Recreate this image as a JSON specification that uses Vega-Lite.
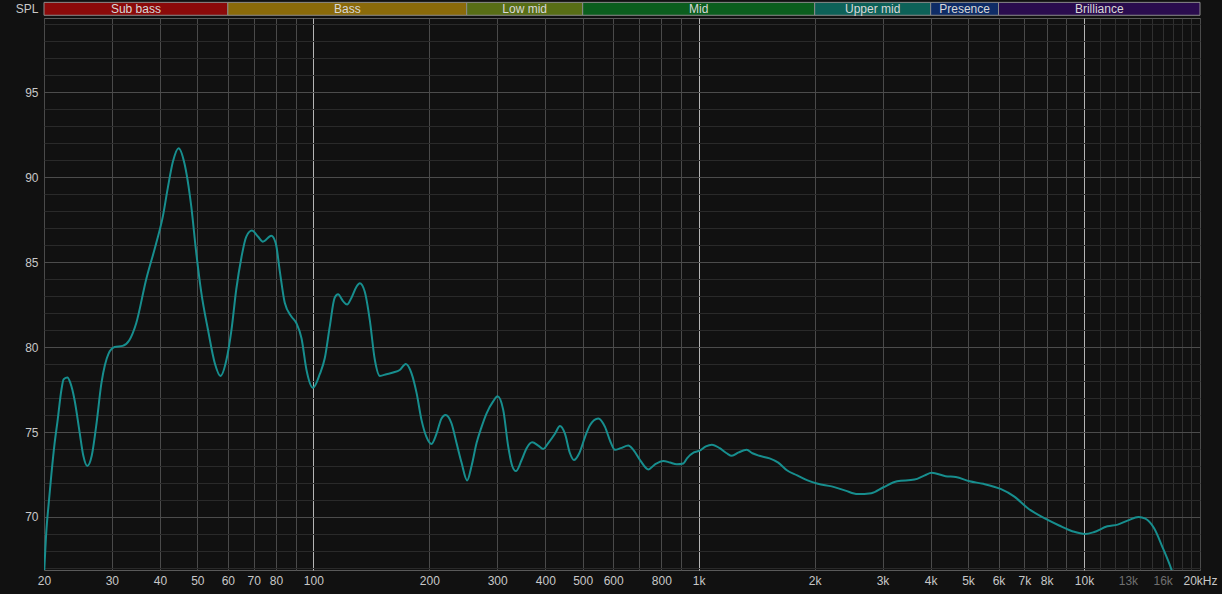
{
  "$schema": "https://vega.github.io/schema/vega-lite/v6.json",
  "width": 1156,
  "height": 552,
  "autosize": {"type": "none"},
  "padding": {"left": 44, "top": 18, "right": 22, "bottom": 24},
  "background": "#111111",
  "config": {
    "view": {"stroke": "#5a5a5a", "strokeWidth": 1, "fill": "#111111"},
    "axis": {"domain": false, "ticks": false, "labelFont": "Liberation Sans", "labelFontSize": 12, "titleFont": "Liberation Sans", "gridWidth": 1}
  },
  "datasets": {
    "response": [
      {"f": 20, "spl": 66.5}, {"f": 20.3, "spl": 69.3}, {"f": 20.55, "spl": 70.7}, {"f": 20.9, "spl": 72.5},
      {"f": 21.3, "spl": 74.3}, {"f": 21.7, "spl": 75.7}, {"f": 22.2, "spl": 77.5}, {"f": 22.5, "spl": 78.1},
      {"f": 23.0, "spl": 78.2}, {"f": 23.4, "spl": 77.9}, {"f": 24.0, "spl": 76.9}, {"f": 24.7, "spl": 75.1},
      {"f": 25.3, "spl": 73.6}, {"f": 25.9, "spl": 73.0}, {"f": 26.6, "spl": 73.6}, {"f": 27.3, "spl": 75.3},
      {"f": 28.2, "spl": 77.9}, {"f": 29.4, "spl": 79.6}, {"f": 30.5, "spl": 80.0}, {"f": 32.0, "spl": 80.07},
      {"f": 33.3, "spl": 80.4}, {"f": 34.7, "spl": 81.4}, {"f": 36.8, "spl": 83.95}, {"f": 39.1, "spl": 86.1},
      {"f": 40.7, "spl": 87.7}, {"f": 41.9, "spl": 89.35}, {"f": 43.2, "spl": 90.9}, {"f": 44.7, "spl": 91.7},
      {"f": 46.3, "spl": 90.8}, {"f": 48.2, "spl": 88.3}, {"f": 49.7, "spl": 85.5}, {"f": 51.2, "spl": 83.2},
      {"f": 53.3, "spl": 81.0}, {"f": 55.5, "spl": 79.05}, {"f": 57.4, "spl": 78.3}, {"f": 59.5, "spl": 79.25},
      {"f": 61.3, "spl": 81.0}, {"f": 63.1, "spl": 83.4}, {"f": 65.1, "spl": 85.3}, {"f": 67.0, "spl": 86.5},
      {"f": 69.3, "spl": 86.85}, {"f": 71.8, "spl": 86.5}, {"f": 74.0, "spl": 86.2}, {"f": 77.8, "spl": 86.55},
      {"f": 79.9, "spl": 86.1}, {"f": 81.8, "spl": 84.5}, {"f": 84.3, "spl": 82.6}, {"f": 87.7, "spl": 81.8},
      {"f": 90.4, "spl": 81.4}, {"f": 93.2, "spl": 80.5}, {"f": 96.0, "spl": 78.65}, {"f": 99.8, "spl": 77.6},
      {"f": 103.9, "spl": 78.4}, {"f": 107.1, "spl": 79.35}, {"f": 110.3, "spl": 81.2}, {"f": 113.6, "spl": 82.9},
      {"f": 115.9, "spl": 83.1}, {"f": 119.4, "spl": 82.7}, {"f": 122.3, "spl": 82.5}, {"f": 125.6, "spl": 82.9},
      {"f": 129.4, "spl": 83.55}, {"f": 132.0, "spl": 83.75}, {"f": 136.0, "spl": 83.25}, {"f": 140.1, "spl": 81.6},
      {"f": 144.4, "spl": 79.25}, {"f": 148.8, "spl": 78.3}, {"f": 154.8, "spl": 78.4}, {"f": 161.1, "spl": 78.5},
      {"f": 167.6, "spl": 78.65}, {"f": 173.8, "spl": 79.0}, {"f": 179.8, "spl": 78.45}, {"f": 185.3, "spl": 77.3},
      {"f": 190.9, "spl": 75.7}, {"f": 196.7, "spl": 74.7}, {"f": 202.6, "spl": 74.3}, {"f": 208.8, "spl": 74.9},
      {"f": 215.1, "spl": 75.8}, {"f": 220.3, "spl": 76.0}, {"f": 228.4, "spl": 75.5}, {"f": 235.3, "spl": 74.35},
      {"f": 242.4, "spl": 73.2}, {"f": 250.7, "spl": 72.15}, {"f": 257.4, "spl": 73.0}, {"f": 265.2, "spl": 74.35},
      {"f": 273.3, "spl": 75.3}, {"f": 281.6, "spl": 76.1}, {"f": 292.9, "spl": 76.8}, {"f": 300.7, "spl": 77.1},
      {"f": 311.0, "spl": 76.3}, {"f": 320.4, "spl": 74.15}, {"f": 328.2, "spl": 73.0}, {"f": 335.5, "spl": 72.7},
      {"f": 347.2, "spl": 73.35}, {"f": 357.7, "spl": 74.05}, {"f": 369.9, "spl": 74.4}, {"f": 383.4, "spl": 74.2},
      {"f": 395.0, "spl": 74.0}, {"f": 407.0, "spl": 74.35}, {"f": 423.7, "spl": 74.9}, {"f": 436.5, "spl": 75.35},
      {"f": 449.7, "spl": 74.9}, {"f": 463.4, "spl": 73.75}, {"f": 474.6, "spl": 73.35}, {"f": 489.9, "spl": 73.75},
      {"f": 506.9, "spl": 74.7}, {"f": 522.3, "spl": 75.4}, {"f": 548.9, "spl": 75.8}, {"f": 571.3, "spl": 75.3},
      {"f": 588.6, "spl": 74.5}, {"f": 606.5, "spl": 73.95}, {"f": 627.5, "spl": 74.05}, {"f": 656.8, "spl": 74.2},
      {"f": 676.8, "spl": 73.95}, {"f": 704.5, "spl": 73.35}, {"f": 740.3, "spl": 72.8}, {"f": 770.5, "spl": 73.1},
      {"f": 809.8, "spl": 73.3}, {"f": 842.9, "spl": 73.2}, {"f": 877.3, "spl": 73.1}, {"f": 912.6, "spl": 73.15},
      {"f": 932.6, "spl": 73.45}, {"f": 971.8, "spl": 73.8}, {"f": 1006, "spl": 73.9}, {"f": 1044, "spl": 74.15},
      {"f": 1082, "spl": 74.25}, {"f": 1134, "spl": 74.05}, {"f": 1182, "spl": 73.75}, {"f": 1219, "spl": 73.6},
      {"f": 1270, "spl": 73.8}, {"f": 1332, "spl": 73.95}, {"f": 1379, "spl": 73.75}, {"f": 1437, "spl": 73.6},
      {"f": 1528, "spl": 73.45}, {"f": 1609, "spl": 73.2}, {"f": 1694, "spl": 72.75}, {"f": 1802, "spl": 72.45},
      {"f": 1917, "spl": 72.15}, {"f": 2039, "spl": 71.95}, {"f": 2214, "spl": 71.8}, {"f": 2404, "spl": 71.55},
      {"f": 2584, "spl": 71.35}, {"f": 2806, "spl": 71.4}, {"f": 3016, "spl": 71.75}, {"f": 3274, "spl": 72.1},
      {"f": 3631, "spl": 72.2}, {"f": 3861, "spl": 72.45}, {"f": 4024, "spl": 72.6}, {"f": 4371, "spl": 72.4},
      {"f": 4648, "spl": 72.35}, {"f": 5050, "spl": 72.1}, {"f": 5480, "spl": 71.95}, {"f": 6073, "spl": 71.65},
      {"f": 6596, "spl": 71.2}, {"f": 7161, "spl": 70.5}, {"f": 7937, "spl": 69.9}, {"f": 8620, "spl": 69.5},
      {"f": 9363, "spl": 69.15}, {"f": 10060, "spl": 69.0}, {"f": 10590, "spl": 69.1}, {"f": 11500, "spl": 69.45},
      {"f": 12230, "spl": 69.55}, {"f": 13020, "spl": 69.8}, {"f": 13850, "spl": 70.0}, {"f": 14430, "spl": 69.9},
      {"f": 15190, "spl": 69.35}, {"f": 16000, "spl": 68.2}, {"f": 16840, "spl": 66.95}, {"f": 17100, "spl": 66.5}
    ],
    "bands": [
      {"band": "Sub bass", "lo": 20, "hi": 60, "center": 34.64},
      {"band": "Bass", "lo": 60, "hi": 250, "center": 122.5},
      {"band": "Low mid", "lo": 250, "hi": 500, "center": 353.6},
      {"band": "Mid", "lo": 500, "hi": 2000, "center": 1000},
      {"band": "Upper mid", "lo": 2000, "hi": 4000, "center": 2828},
      {"band": "Presence", "lo": 4000, "hi": 6000, "center": 4899},
      {"band": "Brilliance", "lo": 6000, "hi": 20000, "center": 10954}
    ]
  },
  "layer": [
    {
      "data": {"name": "response"},
      "mark": {"type": "line", "color": "#178e8e", "strokeWidth": 2, "clip": true, "interpolate": "monotone"},
      "encoding": {
        "x": {
          "field": "f", "type": "quantitative",
          "scale": {"type": "log", "domain": [20, 20000], "nice": false},
          "axis": {
            "title": null,
            "tickCount": 200,
            "values": [20,30,40,50,60,70,80,90,100,200,300,400,500,600,700,800,900,1000,2000,3000,4000,5000,6000,7000,8000,9000,10000,11000,12000,13000,14000,15000,16000,17000,18000,19000,20000],
            "labelExpr": "indexof([20,30,40,50,60,70,80,100,200,300,400,500,600,800], datum.value) >= 0 ? '' + datum.value : (indexof([1000,2000,3000,4000,5000,6000,7000,8000,10000,13000,16000], datum.value) >= 0 ? (datum.value / 1000) + 'k' : (datum.value == 20000 ? '20kHz' : ''))",
            "labelOverlap": false,
            "labelFlush": false,
            "labelPadding": 5,
            "labelColor": {"condition": {"test": "datum.value == 13000 || datum.value == 16000", "value": "#707070"}, "value": "#c8c8c8"},
            "grid": true,
            "gridColor": {"condition": {"test": "datum.value == 100 || datum.value == 1000 || datum.value == 10000", "value": "#b4b4b4"}, "value": "#4a4a4a"},
            "gridOpacity": {"condition": {"test": "datum.value > 10000 && datum.value < 20000", "value": 0.55}, "value": 1}
          }
        },
        "y": {
          "field": "spl", "type": "quantitative",
          "scale": {"domain": [66.88, 99.36], "nice": false, "zero": false},
          "axis": {
            "title": "SPL",
            "titleAngle": 0,
            "titleX": -6,
            "titleY": -10,
            "titleAlign": "right",
            "titleBaseline": "middle",
            "titleColor": "#c8c8c8",
            "titleFontSize": 12,
            "titleFontWeight": "normal",
            "tickCount": 200,
            "values": [67,68,69,70,71,72,73,74,75,76,77,78,79,80,81,82,83,84,85,86,87,88,89,90,91,92,93,94,95,96,97,98,99],
            "labelExpr": "datum.value % 5 == 0 ? '' + datum.value : ''",
            "labelOverlap": false,
            "labelPadding": 6,
            "labelColor": "#c8c8c8",
            "grid": true,
            "gridColor": {"condition": {"test": "datum.value % 5 == 0", "value": "#4c4c4c"}, "value": "#2a2a2a"}
          }
        }
      }
    },
    {
      "data": {"name": "bands"},
      "mark": {"type": "rect", "stroke": "#8c8c8c", "strokeWidth": 1},
      "encoding": {
        "x": {"field": "lo", "type": "quantitative", "title": null},
        "x2": {"field": "hi"},
        "y": {"datum": 99.52, "type": "quantitative", "title": null},
        "y2": {"datum": 100.28},
        "color": {
          "field": "band", "type": "nominal", "legend": null,
          "scale": {
            "domain": ["Sub bass", "Bass", "Low mid", "Mid", "Upper mid", "Presence", "Brilliance"],
            "range": ["#8b0a0a", "#8a6a0a", "#586e16", "#0b5e1e", "#0d6158", "#0f2c66", "#2a0c4e"]
          }
        }
      }
    },
    {
      "data": {"name": "bands"},
      "mark": {"type": "text", "font": "Liberation Sans", "fontSize": 12, "color": "#d8d8d8", "baseline": "middle", "align": "center"},
      "encoding": {
        "x": {"field": "center", "type": "quantitative", "title": null},
        "y": {"datum": 99.9, "type": "quantitative", "title": null},
        "text": {"field": "band"}
      }
    }
  ]
}
